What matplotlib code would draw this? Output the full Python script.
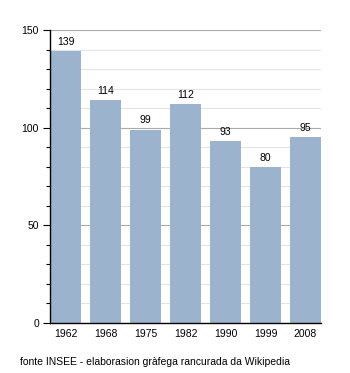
import matplotlib
matplotlib.use("Agg")
import matplotlib.pyplot as plt
from matplotlib.ticker import MultipleLocator

plt.rcParams['font.family'] = ['Liberation Sans', 'DejaVu Sans']

years = ["1962", "1968", "1975", "1982", "1990", "1999", "2008"]
population = [139, 114, 99, 112, 93, 80, 95]
source_note = "fonte INSEE - elaborasion gràfega rancurada da Wikipedia"

fig = plt.figure(figsize=(3.5, 3.73), dpi=100)
ax = fig.add_axes([50/350, 1 - 323/373, 271/350, 293/373])

x = list(range(len(years)))
width = 0.775
bars = ax.bar(x, population, width=width, color="#9bb3cc", zorder=2)

for xi, v in zip(x, population):
    ax.annotate(str(v), (xi, v), xytext=(0, 3), textcoords="offset points",
                ha="center", va="bottom", fontsize=7.5, zorder=3)

ax.set_xlim(-width/2, len(years) - 1 + width/2)
ax.set_ylim(0, 150)
ax.set_xticks(x)
ax.set_xticklabels(years, fontsize=7.5)
ax.yaxis.set_major_locator(MultipleLocator(50))
ax.yaxis.set_minor_locator(MultipleLocator(10))
ax.tick_params(axis="y", which="major", length=5, width=0.8, labelsize=7.5, pad=3)
ax.tick_params(axis="y", which="minor", length=3, width=0.8)
ax.tick_params(axis="x", length=0, pad=4)

ax.grid(axis="y", which="minor", color="#e3e3e3", linewidth=0.8, zorder=0)
ax.grid(axis="y", which="major", color="#aaaaaa", linewidth=0.8, zorder=1)
ax.set_axisbelow(True)

for side in ("top", "right"):
    ax.spines[side].set_visible(False)
for side in ("left", "bottom"):
    ax.spines[side].set_linewidth(1.0)
    ax.spines[side].set_zorder(4)

fig.text(20/350, 1 - 362/373, source_note, fontsize=7.5, va="center", ha="left")

fig.savefig("out.png", dpi=100)
